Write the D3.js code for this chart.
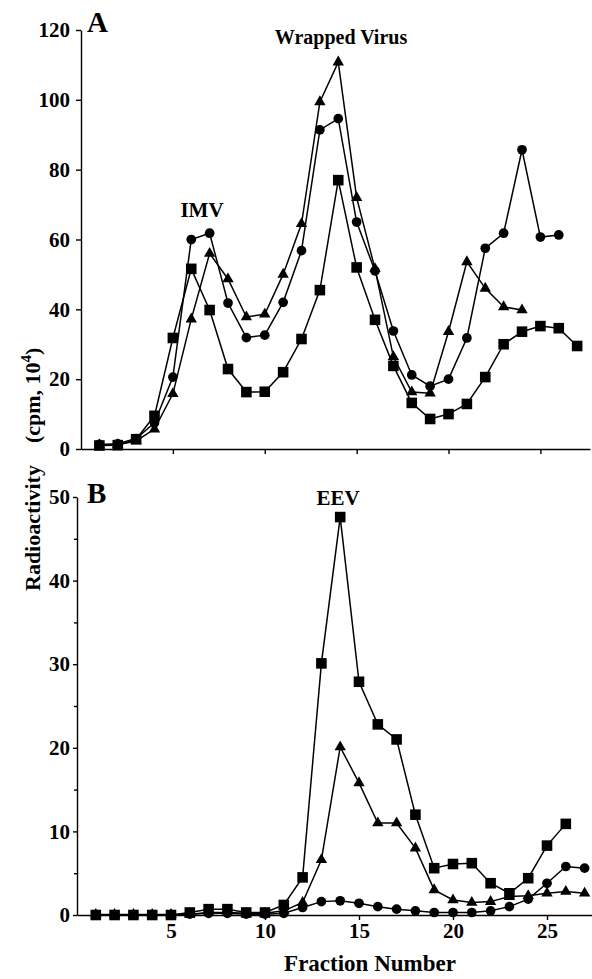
<!DOCTYPE html>
<html>
<head>
<meta charset="utf-8">
<script src="https://cdn.jsdelivr.net/npm/d3@7"></script>
<style>
  body { margin: 0; background: #fff; }
  svg text { font-family: "Liberation Serif", "Times New Roman", serif; font-weight: bold; fill: #000; }
  .axis path, .axis line { stroke: #000; stroke-width: 1.4px; }
  .axis text { font-size: 21px; }
</style>
</head>
<body>
<div id="chart"></div>
<script>
// fraction numbers
const fractions = [1, 2, 3, 4, 5, 6, 7, 8, 9, 10, 11, 12, 13, 14, 15, 16, 17, 18, 19, 20, 21, 22, 23, 24, 25, 26, 27];

// panel A (cpm, 10^4)
const aSquares = [1.0, 1.1, 2.8, 9.5, 31.8, 51.6, 39.8, 22.9, 16.3, 16.4, 22.0, 31.5, 45.5, 77.0, 52.0, 37.0, 23.8, 13.2, 8.6, 10.0, 12.9, 20.6, 30.0, 33.6, 35.2, 34.6, 29.5];
const aCircles = [1.3, 1.5, 3.0, 7.5, 20.6, 60.0, 61.8, 41.8, 31.9, 32.6, 42.0, 56.8, 91.4, 94.6, 65.0, 51.0, 33.8, 21.2, 18.0, 20.0, 31.8, 57.5, 61.8, 85.7, 60.7, 61.3];
const aTriangles = [1.1, 1.2, 2.3, 5.7, 15.8, 37.2, 56.0, 48.7, 37.8, 38.6, 50.0, 64.5, 99.4, 110.8, 72.0, 51.6, 26.4, 16.3, 16.0, 33.6, 53.6, 46.0, 40.7, 39.8];

// panel B
const bSquares = [0, 0, 0, 0, 0, 0.3, 0.7, 0.7, 0.3, 0.3, 1.2, 4.5, 30.1, 47.6, 27.9, 22.8, 21.0, 12.0, 5.6, 6.1, 6.2, 3.8, 2.6, 4.4, 8.3, 10.9];
const bTriangles = [0.05, 0.05, 0.05, 0.05, 0.05, 0.1, 0.3, 0.3, 0.2, 0.2, 0.5, 1.5, 6.6, 20.1, 15.8, 11.0, 11.0, 8.0, 3.0, 1.8, 1.5, 1.6, 2.2, 2.3, 2.6, 2.8, 2.6];
const bCircles = [0, 0, 0, 0, 0, 0.1, 0.2, 0.2, 0.1, 0.1, 0.2, 0.9, 1.6, 1.7, 1.4, 1.0, 0.7, 0.5, 0.3, 0.3, 0.3, 0.5, 1.0, 1.9, 3.8, 5.8, 5.6];

const aYTicks = [0, 20, 40, 60, 80, 100, 120];
const bYTicks = [0, 10, 20, 30, 40, 50];
const bYMinor = [5, 15, 25, 35, 45];
const xTicks = [5, 10, 15, 20, 25];

const width = 592, height = 979;

const svg = d3.select("#chart").append("svg")
    .attr("width", width)
    .attr("height", height);

const shapes = {
    square: d3.symbol().type(d3.symbolSquare).size(112),
    circle: d3.symbol().type(d3.symbolCircle).size(74),
    triangle: d3.symbol().type(d3.symbolTriangle).size(56)
};

function drawSeries(g, x, y, values) {
    const pts = values.map((v, i) => [fractions[i], v]);
    const line = d3.line().x(d => x(d[0])).y(d => y(d[1]));
    g.append("path")
        .datum(pts)
        .attr("fill", "none")
        .attr("stroke", "#000")
        .attr("stroke-width", 1.5)
        .attr("d", line);
    return pts;
}

function drawMarks(g, x, y, pts, shape) {
    g.selectAll(null)
        .data(pts)
        .enter().append("path")
        .attr("d", shapes[shape])
        .attr("transform", d => "translate(" + x(d[0]) + "," + y(d[1]) + ")")
        .attr("fill", "#000");
}

function panel(opts) {
    const x = d3.scaleLinear().domain([0, opts.xMax]).range(opts.xRange);
    const y = d3.scaleLinear().domain(opts.yDomain).range(opts.yRange);
    const g = svg.append("g");

    // axes
    const yAxis = d3.axisLeft(y).tickValues(opts.yTicks).tickSize(opts.yTickSize).tickPadding(opts.yPad).tickSizeOuter(0);
    g.append("g").attr("class", "axis")
        .attr("transform", "translate(" + opts.xRange[0] + ",0)")
        .call(yAxis);
    if (opts.yMinor) {
        g.append("g").attr("class", "axis")
            .attr("transform", "translate(" + opts.xRange[0] + ",0)")
            .call(d3.axisLeft(y).tickValues(opts.yMinor).tickSize(3).tickFormat("").tickSizeOuter(0))
            .select(".domain").remove();
    }
    const xAxis = d3.axisBottom(x).tickValues(xTicks).tickSize(5).tickPadding(3).tickSizeOuter(0);
    if (!opts.xLabels) xAxis.tickFormat("");
    g.append("g").attr("class", "axis")
        .attr("transform", "translate(0," + opts.yRange[0] + ")")
        .call(xAxis);

    const series = opts.series.map(s => ({ shape: s.shape, pts: drawSeries(g, x, y, s.values) }));
    series.forEach(s => drawMarks(g, x, y, s.pts, s.shape));
    return { x, y };
}

panel({
    xMax: 27.7, xRange: [81, 590],
    yDomain: [0, 120], yRange: [449, 30],
    yTicks: aYTicks, yTickSize: 5, yPad: 6,
    xLabels: false,
    series: [
        { values: aTriangles, shape: "triangle" },
        { values: aCircles, shape: "circle" },
        { values: aSquares, shape: "square" }
    ]
});

panel({
    xMax: 27.5, xRange: [77, 594],
    yDomain: [0, 50], yRange: [915, 497],
    yTicks: bYTicks, yMinor: bYMinor, yTickSize: 4, yPad: 3,
    xLabels: true,
    series: [
        { values: bCircles, shape: "circle" },
        { values: bTriangles, shape: "triangle" },
        { values: bSquares, shape: "square" }
    ]
});

// panel letters and annotations
svg.append("text").attr("x", 87).attr("y", 32).style("font-size", "29px").text("A");
svg.append("text").attr("x", 87).attr("y", 503).style("font-size", "29px").text("B");
svg.append("text").attr("x", 341).attr("y", 44).attr("text-anchor", "middle").style("font-size", "20px").text("Wrapped Virus");
svg.append("text").attr("x", 202).attr("y", 217).attr("text-anchor", "middle").style("font-size", "21px").text("IMV");
svg.append("text").attr("x", 338).attr("y", 505).attr("text-anchor", "middle").style("font-size", "21px").text("EEV");

// axis titles
svg.append("text")
    .attr("x", 370).attr("y", 971)
    .attr("text-anchor", "middle")
    .style("font-size", "23px")
    .text("Fraction Number");

const yt = svg.append("text")
    .attr("transform", "translate(40,591) rotate(-90)")
    .attr("text-anchor", "start")
    .style("font-size", "22px");
yt.append("tspan").text("Radioactivity");
yt.append("tspan").attr("dx", 22).text("(cpm, 10");
yt.append("tspan").attr("dy", -9).style("font-size", "15px").text("4");
yt.append("tspan").attr("dy", 9).text(")");
</script>
</body>
</html>
